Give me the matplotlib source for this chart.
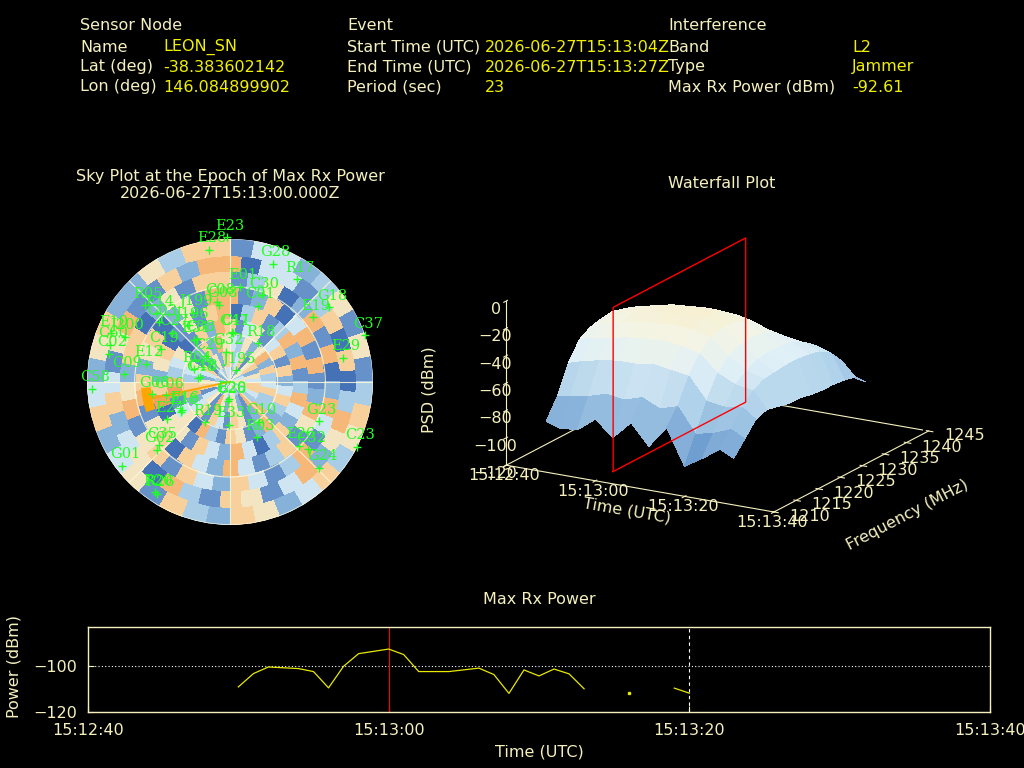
import numpy as np
import matplotlib
matplotlib.use('Agg')
import matplotlib.pyplot as plt
from matplotlib.colors import ListedColormap, LinearSegmentedColormap

PALE = '#f5f0be'
YEL = '#f0f000'
GREEN = '#22ff22'
FS = 11.5

# ---- header info
sensor_keys = ['Name', 'Lat (deg)', 'Lon (deg)']
sensor_vals = ['LEON_SN', '-38.383602142', '146.084899902']
event_keys = ['Start Time (UTC)', 'End Time (UTC)', 'Period (sec)']
event_vals = ['2026-06-27T15:13:04Z', '2026-06-27T15:13:27Z', '23']
intf_keys = ['Band', 'Type', 'Max Rx Power (dBm)']
intf_vals = ['L2', 'Jammer', '-92.61']

# ---- sky plot: satellites (azimuth deg, elevation deg)
sat_names = ['E23', 'E28', 'G28', 'R17', 'E01', 'C30', 'C01', 'G18', 'E19', 'C37',
             'E29', 'G23', 'C23', 'E26', 'C32', 'G24', 'R03', 'G10', 'E33', 'R19',
             'G26', 'E20', 'J195', 'G32', 'R18', 'C47', 'C11', 'C08', 'G08', 'R05',
             'E14', 'C03', 'C27', 'J199', 'J196', 'E31', 'C38', 'C19', 'E10', 'J200',
             'C60', 'C02', 'E12', 'C09', 'C58', 'C29', 'R04', 'C48', 'C18', 'G06',
             'C06', 'E18', 'E16', 'E24', 'C35', 'G02', 'G01', 'R26', 'R20']
sat_az = [359, 351, 20, 33, 6, 20, 20, 53, 52, 71,
          78, 114, 117, 133, 131, 134, 154, 144, 182, 212,
          185, 183, 27, 352, 36, 2, 4, 351, 352, 312,
          313, 310, 310, 332, 324, 319, 323, 295, 292, 293,
          287, 283, 282, 274, 267, 317, 289, 276, 278, 261,
          258, 238, 240, 239, 228, 227, 232, 213, 214]
sat_el = [-1, 6, 11, 13, 30, 32, 39, 12, 24, 0,
          17, 29, 0, 31, 25, 12, 51, 59, 63, 60,
          78, 79, 82, 71, 60, 59, 59, 39, 41, 18,
          27, 32, 42, 41, 46, 55, 56, 42, 9, 18,
          11, 12, 36, 23, 3, 68, 66, 70, 71, 40,
          49, 54, 55, 44, 30, 27, 4, 6, 6]

# sky background levels (0 = dark blue ... 9 = orange), 10 deg elevation rings
# from zenith outwards, 36 azimuth cells per ring starting at north
sky_rings = ['346356456664563456456354365446345465',
             '457267365775482367368265276357236377',
             '546368374574483267257275387456237386',
             '256257273574383267248165298456127387',
             '147248382485374158357266197367126278',
             '237158282386274258357176287367136288',
             '246138281385284257357276286377136277',
             '155247171486385267248165375268227388',
             '255346262476475367347265375367336477']
sky_colors = ['#2d55a3', '#4572b6', '#6692c9', '#86b2d9', '#a9cde6',
              '#cfe6f2', '#f3e4c2', '#f7d09c', '#f5b878', '#f2a05c']

jam_az = 258
jam_el = 37
jam_span = [250, 266]

# ---- waterfall (seconds after 15:12:40, MHz, dBm)
wf_time = [5, 8, 12, 16, 20, 24, 28, 32, 36, 40, 44, 47]
wf_freq = [1214, 1216.5, 1219, 1221.5, 1224, 1226.5, 1229, 1231.5, 1234, 1236.5, 1239, 1241.5, 1244]
wf_psd = [
    [-92, -78, -58, -45, -40, -38, -37, -40, -45, -52, -62, -76, -92],
    [-95, -76, -55, -42, -36, -34, -33, -36, -42, -50, -60, -75, -90],
    [-94, -74, -52, -40, -33, -30, -30, -33, -39, -48, -60, -76, -91],
    [-84, -70, -50, -37, -30, -27, -27, -30, -36, -46, -58, -74, -90],
    [-95, -72, -50, -36, -29, -26, -25, -29, -35, -45, -58, -75, -92],
    [-82, -68, -48, -35, -28, -24, -24, -28, -34, -45, -58, -74, -90],
    [-97, -74, -50, -37, -29, -25, -25, -29, -35, -46, -59, -75, -91],
    [-81, -70, -52, -40, -33, -30, -30, -33, -38, -47, -58, -74, -90],
    [-107, -88, -68, -52, -44, -40, -39, -40, -44, -50, -58, -72, -89],
    [-99, -85, -70, -58, -52, -48, -47, -47, -48, -52, -58, -70, -88],
    [-90, -80, -68, -60, -56, -55, -54, -54, -55, -57, -62, -72, -88],
    [-95, -85, -75, -72, -74, -76, -76, -78, -79, -79, -80, -82, -90],
]
epoch_time = 20
epoch_freq = [1214, 1244]

# ---- max rx power
pw_time = [10, 11, 12, 14, 15, 16, 17, 18, 20, 21, 22, 24, 26, 27, 28, 29, 30,
           31, 32, 33, 34, 36, 37, 39, 40]
pw_dbm = [-109.1, -103.3, -100.4, -101.1, -102.4, -109.5, -100.1, -94.6, -92.6,
          -95.0, -102.4, -102.4, -100.9, -103.7, -111.9, -101.7, -104.3, -101.3,
          -103.4, -109.9, np.nan, -111.9, np.nan, -109.6, -111.8]
event_end = 40

time_ticks = [0, 20, 40, 60]
time_labels = ['15:12:40', '15:13:00', '15:13:20', '15:13:40']
freq_ticks = [1210, 1215, 1220, 1225, 1230, 1235, 1240, 1245]
psd_ticks = [-120, -100, -80, -60, -40, -20, 0]

W, H = 1024, 768
fig = plt.figure(figsize=(W / 100, H / 100), dpi=100, facecolor='black')


def fx(px):
    return px / W


def fy(py):
    return 1 - py / H


# header block
cols = [(80, 163, 'Sensor Node', sensor_keys, sensor_vals),
        (347, 485, 'Event', event_keys, event_vals),
        (668, 852, 'Interference', intf_keys, intf_vals)]
rows = [47, 67, 87]
for kx, vx, head, keys, vals in cols:
    fig.text(fx(kx), fy(26), head, color=PALE, fontsize=FS, va='center')
    for ry, k, v in zip(rows, keys, vals):
        fig.text(fx(kx), fy(ry), k, color=PALE, fontsize=FS, va='center')
        fig.text(fx(vx), fy(ry), v, color=YEL, fontsize=FS, va='center')

# ---- sky plot
fig.text(fx(230), fy(177), 'Sky Plot at the Epoch of Max Rx Power', color=PALE,
         fontsize=FS, ha='center', va='center')
fig.text(fx(230), fy(194), '2026-06-27T15:13:00.000Z', color=PALE,
         fontsize=FS, ha='center', va='center')

cx, cy, rad = 230, 381.7, 143
axs = fig.add_axes([fx(cx - rad), fy(cy + rad), 2 * rad / W, 2 * rad / H],
                   projection='polar')
axs.set_facecolor('black')
axs.set_theta_zero_location('N')
axs.set_theta_direction(-1)
sky_cmap = ListedColormap(sky_colors)
for k, ring in enumerate(sky_rings):
    vals = np.array([[int(c) for c in ring]])
    # stagger alternate rings by half a cell so the cells look mottled
    shift = 5 * (k % 2)
    t_edges = np.deg2rad(np.arange(0, 361, 10) + shift)
    axs.pcolormesh(t_edges, [10 * k, 10 * k + 10], vals, cmap=sky_cmap,
                   vmin=-0.5, vmax=9.5, shading='flat', antialiased=False,
                   edgecolors='face', linewidth=0.3)
ring_t = np.linspace(0, 2 * np.pi, 361)
for r in (30, 60, 90):
    axs.plot(ring_t, np.full_like(ring_t, r), color='#fff8d8', lw=0.8, alpha=0.85)
for a in range(0, 360, 45):
    axs.plot([np.deg2rad(a)] * 2, [0, 90], color='#fff8d8', lw=0.8, alpha=0.85)

jr = 90 - jam_el
axs.plot([np.deg2rad(jam_az)] * 2, [0, jr], color='#ffa500', lw=1.3)
arc = np.deg2rad(np.linspace(jam_span[0], jam_span[1], 20))
axs.plot(arc, np.full_like(arc, jr), color='#ffa500', lw=7, solid_capstyle='butt')

sat_t = np.deg2rad(sat_az)
sat_r = 90 - np.array(sat_el)
axs.plot(sat_t, sat_r, '+', color=GREEN, ms=6, mew=1, clip_on=False, zorder=5)
for name, t, r in zip(sat_names, sat_t, sat_r):
    axs.annotate(name, (t, r), xytext=(2, 8.3), textcoords='offset points',
                 ha='center', va='center', color=GREEN, fontsize=10.5,
                 family='DejaVu Serif', annotation_clip=False, zorder=6)
axs.set_ylim(0, 90)
axs.set_xticks([])
axs.set_yticks([])
axs.grid(False)
axs.spines['polar'].set_visible(False)

# ---- waterfall plot
fig.text(fx(722), fy(184), 'Waterfall Plot', color=PALE, fontsize=FS,
         ha='center', va='center')
surf_cmap = LinearSegmentedColormap.from_list(
    'wf', [(0.0, '#3f6fb0'), (0.2, '#6d9ccf'), (0.42, '#b0d2ea'),
           (0.58, '#e0f0f7'), (0.72, '#f4f4e4'), (0.85, '#f9eec6'), (1.0, '#fde0a0')])
ax3 = fig.add_axes([0.405, 0.241, 0.58, 0.55], projection='3d', computed_zorder=False)
ax3.set_facecolor('black')
T, F = np.meshgrid(wf_time, wf_freq, indexing='ij')
Z = np.array(wf_psd, dtype=float)
ax3.plot_surface(T, F, Z, cmap=surf_cmap, vmin=-120, vmax=0, linewidth=0,
                 antialiased=False, rstride=1, cstride=1, shade=False, zorder=2)
# base box back edges
ax3.plot([0, 60], [1245, 1245], [-120, -120], color=PALE, lw=0.8, zorder=1)
ax3.plot([0, 0], [1210, 1245], [-120, -120], color=PALE, lw=0.8, zorder=1)
# epoch plane
ef0, ef1 = epoch_freq
ax3.plot([epoch_time] * 5, [ef0, ef1, ef1, ef0, ef0], [-120, -120, 0, 0, -120],
         color='red', lw=1, zorder=5)
ax3.set_xlim(0, 60)
ax3.set_ylim(1210, 1245)
ax3.set_zlim(-120, 0)
ax3.set_xticks(time_ticks)
ax3.set_xticklabels(time_labels)
ax3.set_yticks(freq_ticks)
ax3.set_yticklabels([str(f) for f in freq_ticks], ha='left', va='bottom')
ax3.set_zticks(psd_ticks)
ax3.set_xlabel('Time (UTC)', color=PALE, fontsize=FS, labelpad=-7)
ax3.set_ylabel('Frequency (MHz)', color=PALE, fontsize=FS, labelpad=12)
ax3.set_zlabel('PSD (dBm)', color=PALE, fontsize=FS, labelpad=8)
ax3.set_proj_type('ortho')
ax3.set_box_aspect((1.03, 1.03, 0.574), zoom=1.08)
ax3.view_init(elev=17.6, azim=-60)
ax3.grid(False)
ax3.zaxis.set_ticks_position('lower')
ax3.zaxis.set_label_position('lower')
for a, pad in ((ax3.xaxis, -6), (ax3.yaxis, 1), (ax3.zaxis, -4)):
    a.set_pane_color((0, 0, 0, 0))
    a.pane.set_edgecolor('none')
    a.line.set_color(PALE)
    a.set_tick_params(colors=PALE, labelsize=FS, pad=pad)

# ---- max rx power
fig.text(fx(539), fy(599), 'Max Rx Power', color=PALE, fontsize=FS,
         ha='center', va='center')
axp = fig.add_axes([fx(88), fy(712), 902 / W, 85 / H])
axp.set_facecolor('black')
axp.axhline(-100, color='white', lw=0.8, ls=(0, (1, 2)))
axp.axvline(epoch_time, color='red', lw=0.8)
axp.axvline(event_end, color='white', lw=0.8, ls=(0, (3, 3)))
pw = np.array(pw_dbm)
axp.plot(pw_time, pw, color='#e8e800', lw=0.9)
# samples with no neighbours show up as a dot
prev_nan = np.isnan(np.r_[np.nan, pw[:-1]])
next_nan = np.isnan(np.r_[pw[1:], np.nan])
lone = prev_nan & next_nan & ~np.isnan(pw)
axp.plot(np.array(pw_time)[lone], pw[lone], 's', color='#e8e800', ms=1.5)
axp.set_xlim(0, 60)
axp.set_ylim(-120, -83)
axp.set_xticks(time_ticks)
axp.set_xticklabels(time_labels)
axp.set_yticks([-120, -100])
axp.tick_params(colors=PALE, labelsize=FS, direction='in', length=4, pad=8)
for s in axp.spines.values():
    s.set_color(PALE)
    s.set_linewidth(1)
fig.text(fx(539), fy(752), 'Time (UTC)', color=PALE, fontsize=FS,
         ha='center', va='center')
fig.text(fx(14), fy(667), 'Power (dBm)', color=PALE, fontsize=FS,
         ha='center', va='center', rotation=90)

fig.savefig('out.png', dpi=100, facecolor='black')
